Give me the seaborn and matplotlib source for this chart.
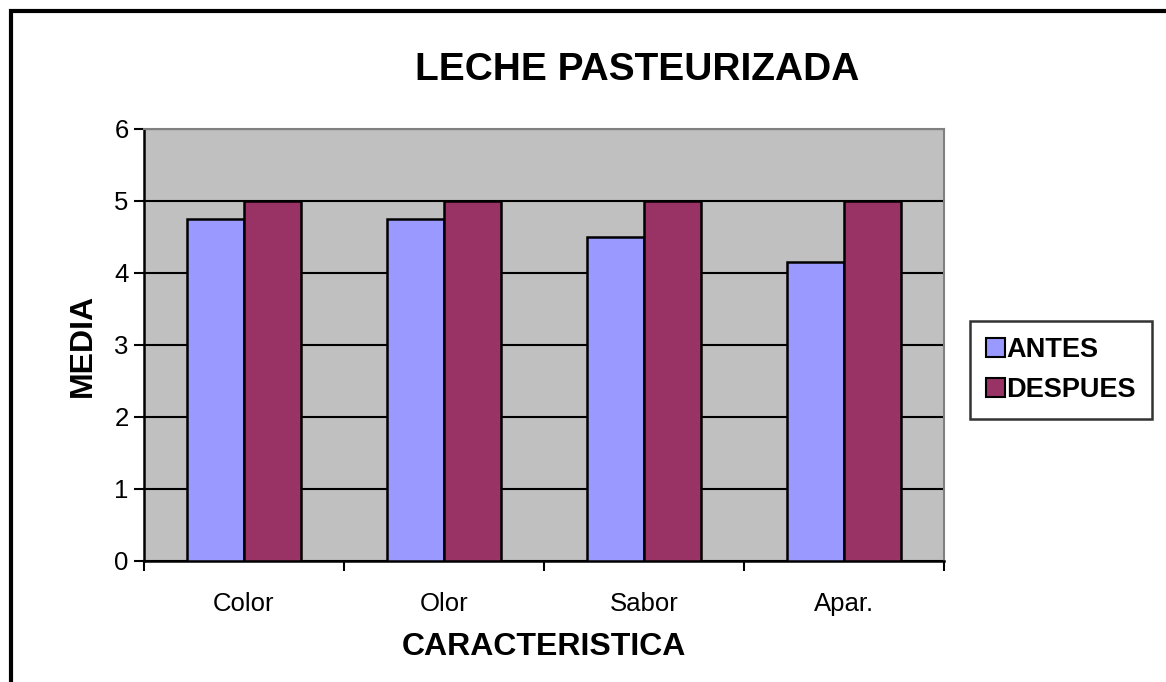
import matplotlib
matplotlib.use('Agg')
import matplotlib.pyplot as plt
from matplotlib.patches import Rectangle, Patch
import seaborn as sns
import pandas as pd

categorias = ['Color', 'Olor', 'Sabor', 'Apar.']
antes = [4.75, 4.75, 4.5, 4.15]
despues = [5, 5, 5, 5]
series = ['ANTES', 'DESPUES']
colores = ['#9999FF', '#993366']

df = pd.DataFrame({
    'CARACTERISTICA': categorias * 2,
    'MEDIA': antes + despues,
    'serie': [series[0]] * len(categorias) + [series[1]] * len(categorias),
})

sns.set_style('white')
plt.rcParams['font.family'] = ['Liberation Sans', 'DejaVu Sans']
plt.rcParams['text.color'] = 'black'
plt.rcParams['axes.labelcolor'] = 'black'
plt.rcParams['xtick.color'] = 'black'
plt.rcParams['ytick.color'] = 'black'

fig = plt.figure(figsize=(11.66, 6.82), dpi=100)
ax = fig.add_axes([144 / 1166, 1 - 561 / 682, 800 / 1166, 432 / 682])
ax.set_facecolor('#C0C0C0')

sns.barplot(data=df, x='CARACTERISTICA', y='MEDIA', hue='serie',
            palette=colores, saturation=1, width=0.57,
            edgecolor='black', linewidth=1.8, ax=ax, legend=False, zorder=3)

ax.set_ylim(0, 6)
ax.set_xlim(-0.5, 3.5)
ax.set_yticks(range(0, 7))
ax.yaxis.grid(True, color='black', linewidth=1.5, zorder=1)
ax.set_axisbelow(True)

ax.set_xticks([-0.5, 0.5, 1.5, 2.5, 3.5], minor=True)
ax.tick_params(axis='x', which='major', length=0, labelsize=18.5, pad=22)
ax.tick_params(axis='x', which='minor', length=7, width=1.5, color='black', direction='out')
ax.tick_params(axis='y', length=7, width=1.5, color='black', direction='out', labelsize=18.5, pad=4)
ax.tick_params(left=True, bottom=True, which='both')

for s in ['left', 'bottom']:
    ax.spines[s].set_color('black')
    ax.spines[s].set_linewidth(1.8)
for s in ['top', 'right']:
    ax.spines[s].set_color('#808080')
    ax.spines[s].set_linewidth(1.5)

ax.set_xlabel('CARACTERISTICA', fontsize=23, fontweight='bold', labelpad=12)
ax.set_ylabel('MEDIA', fontsize=23, fontweight='bold', labelpad=12)
fig.text(637 / 1166, 1 - 70 / 682, 'LECHE PASTEURIZADA', fontsize=28,
         fontweight='bold', ha='center', va='center')

handles = [Patch(facecolor=c, edgecolor='black', linewidth=1.5) for c in colores]
leg = fig.legend(handles, series, loc='center', bbox_to_anchor=(1061 / 1166, 1 - 370 / 682),
                 frameon=True, fancybox=False, edgecolor='black',
                 prop={'weight': 'bold', 'size': 19.5}, handlelength=0.7, handleheight=0.7,
                 handletextpad=0.05, borderpad=0.6, labelspacing=0.5, borderaxespad=0)
leg.get_frame().set_linewidth(1.8)

fig.patches.append(Rectangle((11 / 1166, -0.1), 1.2, 1 - 11 / 682 + 0.1,
                             transform=fig.transFigure, fill=False,
                             edgecolor='black', linewidth=3))

fig.savefig('out.png', dpi=100)
